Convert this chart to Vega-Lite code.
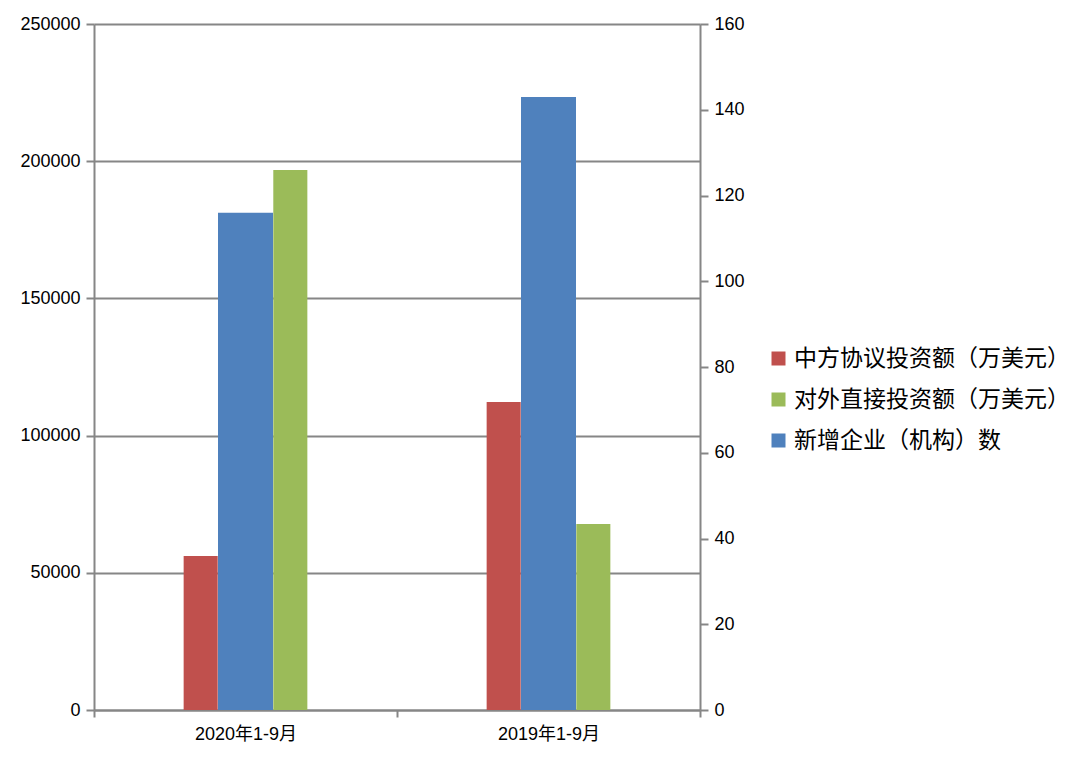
{
  "$schema": "https://vega.github.io/schema/vega-lite/v6.json",
  "width": 606,
  "height": 686,
  "autosize": {"type": "none"},
  "padding": {"left": 94, "top": 24, "right": 388, "bottom": 55},
  "background": "white",
  "config": {
    "font": "Liberation Sans, Noto Sans CJK SC",
    "view": {"stroke": null},
    "axis": {
      "domainColor": "#868686",
      "domainWidth": 2,
      "tickColor": "#868686",
      "tickWidth": 2,
      "gridColor": "#868686",
      "gridWidth": 2,
      "labelColor": "#000000",
      "labelFont": "Liberation Sans, Noto Sans CJK SC",
      "labelFontSize": 18
    },
    "legend": {
      "labelFont": "Noto Sans CJK SC",
      "labelFontSize": 23,
      "labelColor": "#000000",
      "labelLimit": 500,
      "symbolType": "square",
      "symbolSize": 196,
      "symbolStrokeWidth": 0,
      "labelOffset": 4,
      "rowPadding": 17,
      "padding": 0
    }
  },
  "data": {
    "values": [
      {"period": "2020年1-9月", "series": "中方协议投资额（万美元）", "value": 56100},
      {"period": "2020年1-9月", "series": "对外直接投资额（万美元）", "value": 196800},
      {"period": "2020年1-9月", "series": "新增企业（机构）数", "value": 116},
      {"period": "2019年1-9月", "series": "中方协议投资额（万美元）", "value": 112200},
      {"period": "2019年1-9月", "series": "对外直接投资额（万美元）", "value": 67800},
      {"period": "2019年1-9月", "series": "新增企业（机构）数", "value": 143}
    ]
  },
  "encoding": {
    "x": {
      "field": "period",
      "type": "nominal",
      "sort": ["2020年1-9月", "2019年1-9月"],
      "scale": {"paddingInner": 0, "paddingOuter": 0},
      "axis": {
        "title": null,
        "labelAngle": 0,
        "tickBand": "extent",
        "tickSize": 7,
        "labelPadding": 8,
        "grid": false
      }
    },
    "color": {
      "field": "series",
      "type": "nominal",
      "scale": {
        "domain": ["中方协议投资额（万美元）", "对外直接投资额（万美元）", "新增企业（机构）数"],
        "range": ["#C0504D", "#9BBB59", "#4F81BD"]
      },
      "legend": {"title": null, "orient": "none", "legendX": 673, "legendY": 323}
    }
  },
  "layer": [
    {
      "transform": [{"filter": "datum.series !== '新增企业（机构）数'"}],
      "mark": {"type": "bar"},
      "encoding": {
        "xOffset": {
          "field": "series",
          "type": "nominal",
          "scale": {
            "domain": ["pad1", "中方协议投资额（万美元）", "新增企业（机构）数", "对外直接投资额（万美元）", "pad2"],
            "paddingInner": 0.24,
            "paddingOuter": 1
          }
        },
        "y": {
          "field": "value",
          "type": "quantitative",
          "scale": {"domain": [0, 250000], "nice": false},
          "axis": {
            "title": null,
            "values": [0, 50000, 100000, 150000, 200000, 250000],
            "format": "d",
            "grid": true,
            "tickSize": 8,
            "labelPadding": 6
          }
        }
      }
    },
    {
      "transform": [{"filter": "datum.series === '新增企业（机构）数'"}],
      "mark": {"type": "bar", "width": 55},
      "encoding": {
        "y": {
          "field": "value",
          "type": "quantitative",
          "scale": {"domain": [0, 160], "nice": false},
          "axis": {
            "title": null,
            "orient": "right",
            "values": [0, 20, 40, 60, 80, 100, 120, 140, 160],
            "grid": false,
            "tickSize": 8,
            "labelPadding": 6
          }
        }
      }
    }
  ],
  "resolve": {"scale": {"y": "independent"}, "axis": {"y": "independent"}}
}
